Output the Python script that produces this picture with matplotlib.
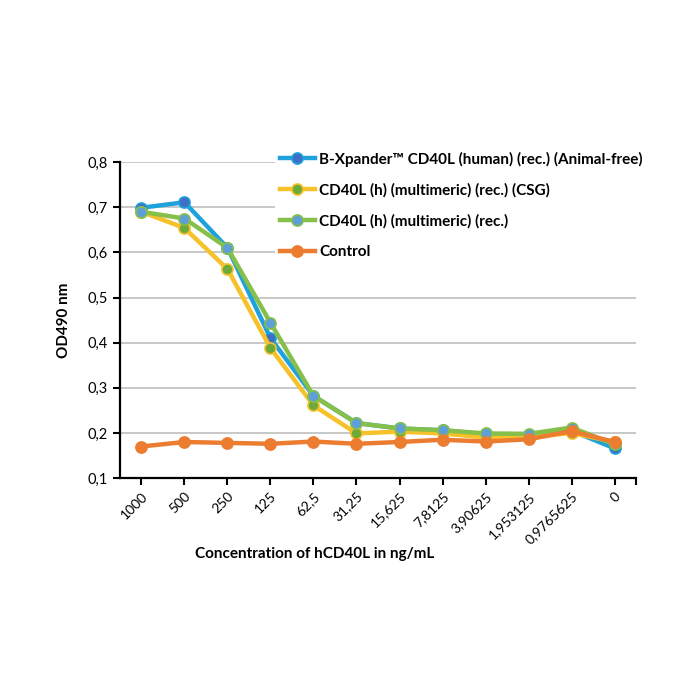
import matplotlib
matplotlib.use("Agg")
from matplotlib import pyplot as plt

plt.rcParams['font.family'] = ['Lato', 'DejaVu Sans']

# concentrations (category axis)
concentrations = ["1000", "500", "250", "125", "62,5", "31,25", "15,625", "7,8125",
                  "3,90625", "1,953125", "0,9765625", "0"]

# OD490 values
bxpander = [0.699, 0.711, 0.610, 0.410, 0.282, 0.222, 0.210, 0.206, 0.197, 0.196, 0.205, 0.166]
csg = [0.690, 0.654, 0.563, 0.388, 0.261, 0.199, 0.203, 0.199, 0.190, 0.190, 0.200, 0.180]
multimeric = [0.690, 0.675, 0.610, 0.444, 0.282, 0.222, 0.210, 0.206, 0.199, 0.198, 0.212, 0.175]
control = [0.170, 0.180, 0.178, 0.176, 0.181, 0.176, 0.180, 0.185, 0.181, 0.186, 0.204, 0.180]

labels = ["B-Xpander\u2122 CD40L (human) (rec.) (Animal-free)",
          "CD40L (h) (multimeric) (rec.) (CSG)",
          "CD40L (h) (multimeric) (rec.)",
          "Control"]

fig = plt.figure(figsize=(7, 7), dpi=100)
ax = fig.add_axes([0.1714, 0.317, 0.7372, 0.4514])

x = list(range(len(concentrations)))

# line colour, marker face colour
styles = [("#1FA2DC", "#3F6FC4"),
          ("#F7C12A", "#6DAA3A"),
          ("#86BF4A", "#5E9FD8"),
          ("#EC7C30", "#EC7C30")]
series = [bxpander, csg, multimeric, control]

lines = []
for vals, (lc, mc), lab in zip(series, styles, labels):
    ln, = ax.plot(x, vals, color=lc, lw=3.2, marker="o", markersize=8,
                  markerfacecolor=mc, markeredgecolor=lc, markeredgewidth=1.2,
                  label=lab, zorder=3)
    lines.append(ln)

ax.set_xlim(-0.5, 11.5)
ax.set_ylim(0.1, 0.8)
ax.set_yticks([0.1, 0.2, 0.3, 0.4, 0.5, 0.6, 0.7, 0.8])
ax.set_yticklabels(["0,1", "0,2", "0,3", "0,4", "0,5", "0,6", "0,7", "0,8"], fontsize=10.5)
ax.set_xticks(x)
ax.set_xticklabels(concentrations, rotation=45, ha="right", rotation_mode="anchor", fontsize=10)
ax.set_xticks([11.5], minor=True)
ax.tick_params(axis="x", which="both", direction="out", length=5, width=1.5)
ax.tick_params(axis="y", direction="out", length=5, width=1.5)

ax.grid(axis="y", color="#BFBFBF", lw=1.2, zorder=0)
for s in ["top", "right"]:
    ax.spines[s].set_visible(False)
for s in ["left", "bottom"]:
    ax.spines[s].set_linewidth(1.6)
ax.set_axisbelow(True)

ax.set_ylabel("OD490 nm", fontsize=11, fontweight="bold", labelpad=12)
fig.text(0.45, 0.209, "Concentration of hCD40L in ng/mL", fontsize=11, fontweight="bold",
         ha="center", va="center")

leg = fig.legend(handles=lines, loc="upper left", bbox_to_anchor=(0.382, 0.801),
                 frameon=True, fancybox=False, edgecolor="none", facecolor="white",
                 framealpha=1, handlelength=2.3, handletextpad=0.3, labelspacing=1.08,
                 prop={"weight": "bold", "size": 11}, borderpad=0.3)
leg.set_zorder(5)

plt.savefig("out.png", dpi=100)
